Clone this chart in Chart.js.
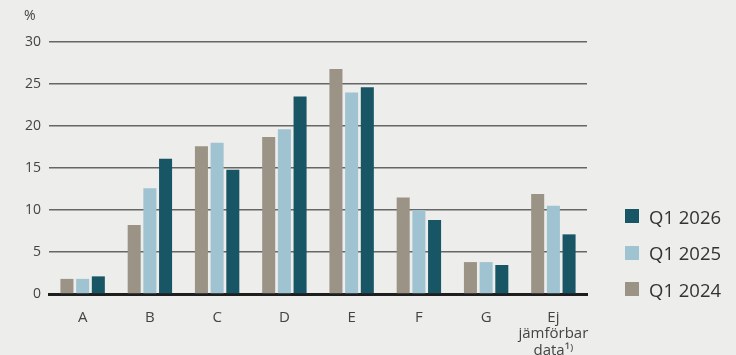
<!DOCTYPE html>
<html>
<head>
<meta charset="utf-8">
<script src="https://cdn.jsdelivr.net/npm/chart.js@4/dist/chart.umd.min.js"></script>
<style>
  html, body { margin: 0; padding: 0; background: #ededeb; }
  #wrap { width: 736px; height: 355px; position: relative; font-family: 'Open Sans', 'Noto Sans', sans-serif; }
  #unit { position: absolute; left: 24px; top: 5px; font-size: 14px; color: #444; }
  #legend { position: absolute; left: 625px; top: 204px; }
  .item { display: flex; align-items: center; height: 24px; margin-bottom: 12.5px; font-size: 18.5px; color: #333; }
  .sw { width: 14px; height: 14px; margin-right: 10px; }
</style>
</head>
<body>
<div id="wrap">
  <canvas id="myChart"></canvas>
  <div id="unit">%</div>
  <div id="legend"></div>
</div>
<script>
const categories = ['A', 'B', 'C', 'D', 'E', 'F', 'G', ['Ej', 'jämförbar', 'data¹⁾']];
const q1_2024 = [1.8, 8.2, 17.6, 18.7, 26.8, 11.5, 3.8, 11.9];
const q1_2025 = [1.8, 12.6, 18.0, 19.6, 24.0, 10.0, 3.8, 10.5];
const q1_2026 = [2.1, 16.1, 14.8, 23.5, 24.6, 8.8, 3.45, 7.1];
const yTicks = [0, 5, 10, 15, 20, 25, 30];

window.onload = () => {
    const ctx = document.getElementById('myChart');
    const font = "'Open Sans', 'Noto Sans', sans-serif";

    const bar = {
        categoryPercentage: 0.7,
        barPercentage: 0.83,
        borderWidth: 0
    };

    const chart = new Chart(ctx, {
        type: 'bar',
        data: {
            labels: categories,
            datasets: [
                { label: 'Q1 2024', data: q1_2024, backgroundColor: '#9b9385', ...bar },
                { label: 'Q1 2025', data: q1_2025, backgroundColor: '#a0c3d2', ...bar },
                { label: 'Q1 2026', data: q1_2026, backgroundColor: '#185666', ...bar }
            ]
        },
        options: {
            responsive: true,
            maintainAspectRatio: false,
            animation: false,
            layout: { padding: { left: 17, right: 149, top: 42, bottom: 0 } },
            plugins: {
                tooltip: { enabled: false },
                legend: { display: false }
            },
            scales: {
                x: {
                    grid: { display: false },
                    border: { display: true, color: '#1e1e1e', width: 3 },
                    afterFit: (axis) => { axis.height = 61; },
                    ticks: {
                        color: '#444',
                        font: { family: font, size: 15, lineHeight: 1.1 },
                        padding: 7,
                        maxRotation: 0,
                        autoSkip: false
                    }
                },
                y: {
                    min: 0,
                    max: 30,
                    afterBuildTicks: (axis) => { axis.ticks = yTicks.map(v => ({ value: v })); },
                    grid: { color: '#666', lineWidth: 1.5, drawTicks: false },
                    border: { display: false },
                    ticks: {
                        color: '#444',
                        font: { family: font, size: 14 },
                        padding: 8
                    }
                }
            }
        }
    });

    // legend, newest first like the original
    const legend = document.getElementById('legend');
    chart.data.datasets.slice().reverse().forEach(ds => {
        const item = document.createElement('div');
        item.className = 'item';
        item.innerHTML = '<span class="sw" style="background:' + ds.backgroundColor + '"></span>' + ds.label;
        legend.appendChild(item);
    });
}
</script>
</body>
</html>
